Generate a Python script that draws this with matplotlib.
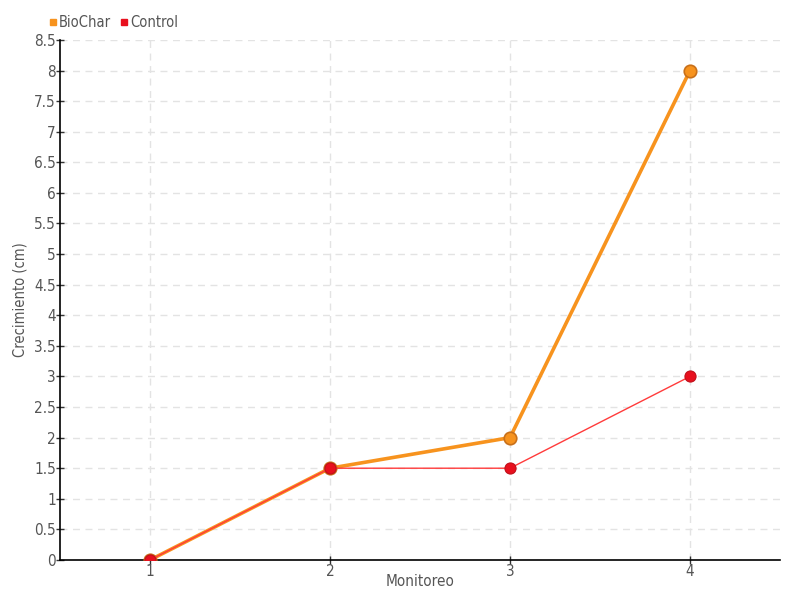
import matplotlib
matplotlib.use("Agg")
import matplotlib.pyplot as plt
from matplotlib.lines import Line2D

plt.rcParams['font.family'] = ['DejaVu Sans']
plt.rcParams['font.stretch'] = 'condensed'

monitoreo = [1, 2, 3, 4]
biochar = [0, 1.5, 2, 8]
control = [0, 1.5, 1.5, 3]
y_ticks = [0, 0.5, 1, 1.5, 2, 2.5, 3, 3.5, 4, 4.5, 5, 5.5, 6, 6.5, 7, 7.5, 8, 8.5]
y_labels = ['0', '0.5', '1', '1.5', '2', '2.5', '3', '3.5', '4', '4.5', '5', '5.5',
            '6', '6.5', '7', '7.5', '8', '8.5']

text_color = '#555555'

fig = plt.figure(figsize=(8, 6), dpi=100)
ax = fig.add_axes([0.075, 0.0667, 0.9, 0.8667])

ax.plot(monitoreo, biochar, color='#f7931e', lw=2.6, marker='o', ms=9,
        mfc='#f7931e', mec='#c8701a', mew=1.2, zorder=3)
ax.plot(monitoreo, control, color='#ff3b3b', lw=1, marker='o', ms=8,
        mfc='#e8101e', mec='#c0101a', mew=0.8, zorder=4)

ax.set_xlim(0.5, 4.5)
ax.set_ylim(0, 8.5)
ax.set_xticks(monitoreo)
ax.set_xticklabels([str(m) for m in monitoreo])
ax.set_yticks(y_ticks)
ax.set_yticklabels(y_labels)

ax.grid(True, color='#e3e3e3', ls=(0, (5, 4)), lw=1)
ax.set_axisbelow(True)

for s in ['top', 'right']:
    ax.spines[s].set_visible(False)
for s in ['left', 'bottom']:
    ax.spines[s].set_color('black')
    ax.spines[s].set_linewidth(1.2)

ax.tick_params(axis='both', direction='inout', length=6, width=1,
               color='#333333', labelcolor=text_color, labelsize=11, pad=0)

ax.set_xlabel('Monitoreo', color=text_color, fontsize=11)
ax.set_ylabel('Crecimiento (cm)', color=text_color, fontsize=10.5)
ax.xaxis.set_label_coords(0.5, -0.026)
ax.yaxis.set_label_coords(-0.045, 0.5)

handles = [
    Line2D([], [], ls='none', marker='s', ms=5, color='#f7931e', label='BioChar'),
    Line2D([], [], ls='none', marker='s', ms=5, color='#e8101e', label='Control'),
]
fig.legend(handles=handles, loc='upper left', bbox_to_anchor=(0.043, 0.997),
           ncol=2, frameon=False, fontsize=10.5, handletextpad=0.0,
           columnspacing=0.5, handlelength=0.8, labelcolor=text_color)

fig.savefig('out.png', dpi=100)
